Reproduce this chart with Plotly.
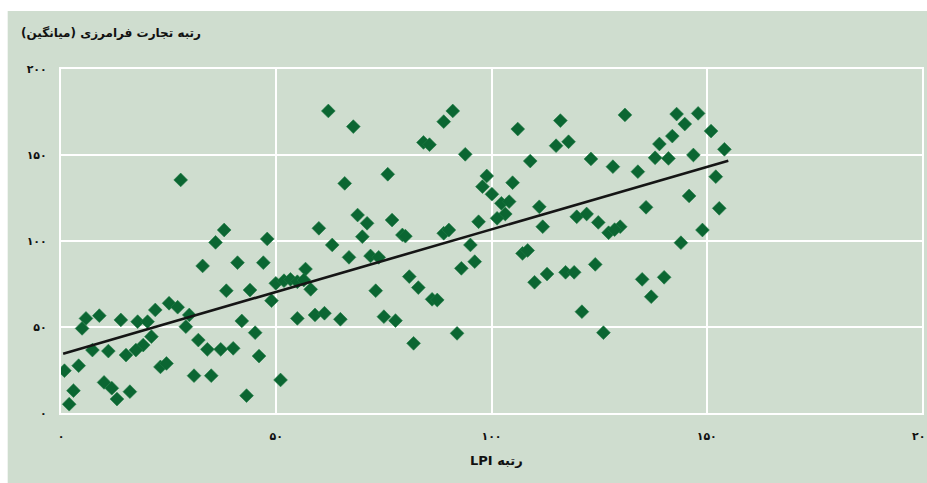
import plotly.graph_objects as go

# LPI rank (x) vs cross-border trade rank (y)
lpi_rank = [
    27.8, 37.9, 35.9, 62.1, 67.9, 75.9, 65.9, 68.9, 71.1, 76.9,
    59.9, 70.0, 47.9, 63.0, 91.0, 88.9, 84.2, 85.6, 93.9, 106.1,
    116.0, 115.0, 117.9, 109.0, 98.9, 97.9, 100.1, 104.9, 102.3, 104.1,
    103.2, 101.3, 111.1, 97.0, 111.9, 79.3, 80.0, 88.9, 90.1, 95.1,
    107.2, 108.4, 131.0, 143.0, 148.0, 144.9, 151.0, 142.0, 139.0, 154.1,
    146.9, 138.0, 141.1, 123.1, 128.2, 134.0, 152.1, 145.9, 135.9, 152.9,
    119.8, 122.1, 124.8, 127.2, 129.9, 128.6, 149.0, 144.0,
    32.9, 38.4, 5.8, 4.9, 8.9, 13.9, 17.8, 20.1, 21.9, 25.1,
    27.1, 29.8, 29.0, 21.0, 19.1, 17.4, 15.1, 7.3, 11.0, 0.8,
    4.1, 2.9, 1.9, 10.0, 11.8, 13.0, 16.0, 23.1, 24.5, 31.9,
    34.0, 37.1, 30.9, 34.9, 41.0, 47.0, 43.9, 56.8, 49.9, 51.8,
    53.3, 54.9, 56.4, 58.0, 48.9, 42.0, 45.1, 40.0, 46.0, 51.0,
    43.1, 54.9, 59.0, 61.2, 64.9, 73.1, 75.0, 77.7, 66.9, 71.9,
    73.8, 96.1, 93.0, 80.9, 83.0, 86.2, 87.4, 81.9, 92.0, 110.0,
    112.9, 117.2, 119.2, 124.1, 135.0, 140.1, 137.1, 121.0, 126.0,
]
trade_rank = [
    135.5, 106.4, 99.2, 175.6, 166.5, 138.8, 133.5, 115.1, 110.3, 112.2,
    107.4, 102.5, 101.2, 97.7, 175.6, 169.4, 157.3, 156.0, 150.4, 165.1,
    170.0, 155.4, 157.7, 146.5, 137.8, 131.6, 127.2, 133.9, 121.9, 122.9,
    115.7, 113.2, 119.9, 111.2, 108.3, 103.5, 102.8, 104.5, 106.4, 97.7,
    92.8, 94.5, 173.3, 173.8, 174.2, 168.0, 163.9, 161.0, 156.4, 153.3,
    150.0, 148.4, 148.0, 147.7, 143.2, 140.3, 137.4, 126.2, 119.6, 119.0,
    114.1, 115.7, 110.8, 104.8, 108.3, 106.6, 106.4, 99.0,
    85.5, 71.1, 55.0, 49.2, 56.6, 54.1, 53.1, 53.1, 59.9, 63.8,
    61.5, 57.0, 50.2, 44.4, 39.5, 36.6, 33.7, 36.6, 36.0, 24.6,
    27.5, 13.0, 5.1, 17.8, 14.4, 8.1, 12.4, 26.8, 28.8, 42.4,
    37.0, 37.0, 21.7, 21.7, 87.4, 87.4, 71.5, 83.7, 75.4, 76.9,
    77.7, 76.3, 77.3, 71.9, 65.3, 53.5, 46.7, 37.6, 33.1, 19.2,
    10.1, 55.0, 57.0, 58.0, 54.5, 71.1, 56.0, 53.7, 90.5, 91.3,
    90.5, 88.0, 84.1, 79.3, 72.9, 66.1, 65.7, 40.5, 46.3, 76.0,
    80.8, 81.8, 81.8, 86.4, 77.7, 78.9, 67.6, 58.9, 46.7,
]

# trend line end points
trend_x = [0.5, 155.0]
trend_y = [34.5, 146.7]

tick_vals = [0, 50, 100, 150, 200]
tick_text = ["۰", "۵۰", "۱۰۰", "۱۵۰", "۲۰۰"]

y_title = "رتبه تجارت فرامرزی (میانگین)"
x_title = "رتبه LPI"

BG = "#CFDDCF"
GREEN = "#0B6632"
FONT = "DejaVu Sans"

# target picture size; the canvas is a little wider (the photo comes out ~1% narrower)
RW, RH = 927, 483
W, H = 936, 483
kx, ky = W / RW, H / RH

# plot area in reference pixels
PL, PR, PT, PB = 60, 923, 69, 413
L = round(PL * kx)
R = W - round(PR * kx)
T = round(PT * ky)
B = H - round(PB * ky)
pw, ph = W - L - R, H - T - B


def px2paper_x(p):
    return (p * kx - L) / pw


def px2paper_y(p):
    return (H - B - p * ky) / ph


fig = go.Figure()
fig.add_trace(go.Scatter(
    x=lpi_rank, y=trade_rank, mode="markers",
    marker=dict(symbol="diamond", size=10.6, color=GREEN,
                line=dict(width=0.6, color="#1f7a43")),
    hoverinfo="skip", showlegend=False,
))
fig.add_trace(go.Scatter(
    x=trend_x, y=trend_y, mode="lines",
    line=dict(color="#151515", width=2.6),
    hoverinfo="skip", showlegend=False,
))

# light green panel, leaving a thin white strip at the top and left
fig.add_shape(
    type="rect", xref="paper", yref="paper", layer="below",
    x0=px2paper_x(7), x1=px2paper_x(RW + 40),
    y0=px2paper_y(RH + 40), y1=px2paper_y(11),
    fillcolor=BG, line=dict(width=0),
)

fig.add_annotation(
    text="<b>\u202b" + y_title + "\u202c</b>",
    xref="paper", yref="paper",
    x=px2paper_x(18), y=px2paper_y(33),
    xanchor="left", yanchor="middle", showarrow=False,
    font=dict(family=FONT, size=12, color="#111111"),
)
fig.add_annotation(
    text="<b>\u202b" + x_title + "\u202c</b>",
    xref="paper", yref="paper",
    x=px2paper_x(497), y=px2paper_y(460),
    xanchor="center", yanchor="middle", showarrow=False,
    font=dict(family=FONT, size=13, color="#111111"),
)

fig.update_layout(
    width=W, height=H,
    margin=dict(l=L, r=R, t=T, b=B, pad=0),
    paper_bgcolor="white",
    plot_bgcolor=BG,
    showlegend=False,
)
fig.update_xaxes(
    range=[0, 200], tickmode="array", tickvals=tick_vals, ticktext=tick_text,
    showgrid=True, gridcolor="white", gridwidth=2,
    zeroline=False, showline=True, linecolor="white", linewidth=2, mirror=True,
    ticks="outside", ticklen=12, tickcolor="rgba(0,0,0,0)",
    ticklabeloverflow="allow",
    tickfont=dict(family=FONT, size=11, color="#111111", weight="bold"),
)
fig.update_yaxes(
    range=[0, 200], tickmode="array", tickvals=tick_vals, ticktext=tick_text,
    showgrid=True, gridcolor="white", gridwidth=2,
    zeroline=False, showline=True, linecolor="white", linewidth=2, mirror=True,
    ticks="outside", ticklen=10, tickcolor="rgba(0,0,0,0)",
    ticklabeloverflow="allow",
    tickfont=dict(family=FONT, size=11, color="#111111", weight="bold"),
)

fig.write_html(
    "out.html",
    config={"displayModeBar": False},
    post_script="document.body.style.margin='0';document.body.style.overflow='hidden';",
)
